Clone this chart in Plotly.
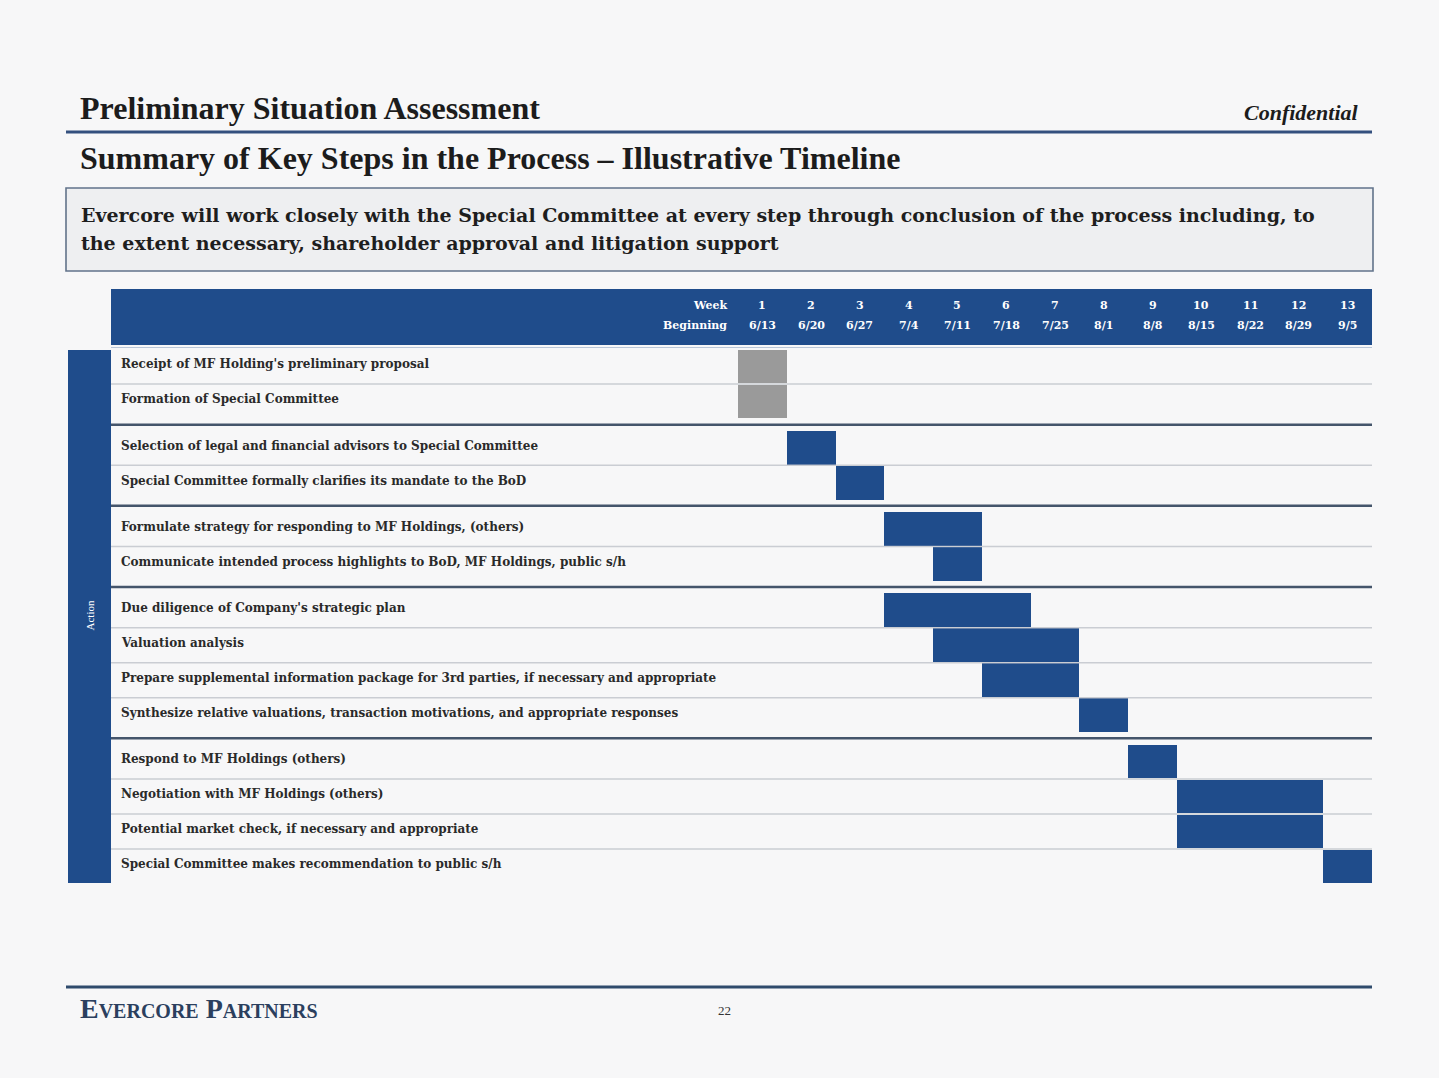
import plotly.graph_objects as go

W, H = 1439, 1078

# ---------------- data ----------------
tasks = [
    "Receipt of MF Holding's preliminary proposal",
    "Formation of Special Committee",
    "Selection of legal and financial advisors to Special Committee",
    "Special Committee formally clarifies its mandate to the BoD",
    "Formulate strategy for responding to MF Holdings, (others)",
    "Communicate intended process highlights to BoD, MF Holdings, public s/h",
    "Due diligence of Company's strategic plan",
    "Valuation analysis",
    "Prepare supplemental information package for 3rd parties, if necessary and appropriate",
    "Synthesize relative valuations, transaction motivations, and appropriate responses",
    "Respond to MF Holdings (others)",
    "Negotiation with MF Holdings (others)",
    "Potential market check, if necessary and appropriate",
    "Special Committee makes recommendation to public s/h",
]
start_week = [1, 1, 2, 3, 4, 5, 4, 5, 6, 8, 9, 10, 10, 13]
end_week = [1, 1, 2, 3, 5, 5, 6, 7, 7, 8, 9, 12, 12, 13]
group_id = [0, 0, 1, 1, 2, 2, 3, 3, 3, 3, 4, 4, 4, 4]
status = ["prelim", "prelim"] + ["plan"] * 12
weeks = list(range(1, 14))
week_begin = ["6/13", "6/20", "6/27", "7/4", "7/11", "7/18", "7/25",
              "8/1", "8/8", "8/15", "8/22", "8/29", "9/5"]

# ---------------- styling ----------------
BLUE = "#1f4c8b"
GRAY = "#9a9a9a"
BG = "#f7f7f8"
SERIF = "Liberation Serif, Times New Roman, serif"
DSERIF = "DejaVu Serif, serif"
GAP = 0.32


def px(x):
    return x / W


def py(y):
    return 1 - y / H


pos = [i + GAP * g for i, g in enumerate(group_id)]
base = [s - 1 for s in start_week]
dur = [e - s + 1 for s, e in zip(start_week, end_week)]
colors = [GRAY if s == "prelim" else BLUE for s in status]

fig = go.Figure()
fig.add_trace(go.Bar(
    orientation="h", y=pos, x=dur, base=base, width=0.96,
    marker=dict(color=colors, line=dict(width=0)),
    hoverinfo="skip", showlegend=False,
))

shapes = []
annotations = []

# header band
shapes.append(dict(type="rect", xref="paper", yref="paper",
                   x0=px(111), x1=px(1372), y0=py(345), y1=py(289),
                   fillcolor=BLUE, line=dict(width=0), layer="below"))
shapes.append(dict(type="line", xref="paper", yref="paper",
                   x0=px(111), x1=px(1372), y0=py(347.5), y1=py(347.5),
                   line=dict(color="#b9c6d8", width=1.2)))
# left "Action" band
shapes.append(dict(type="rect", xref="paper", yref="paper",
                   x0=px(68), x1=px(111), y0=py(883), y1=py(350),
                   fillcolor=BLUE, line=dict(width=0), layer="below"))

# row separators
last = len(pos) - 1
for i in range(last):
    if group_id[i] == group_id[i + 1]:
        yv = pos[i] + 0.5
        shapes.append(dict(type="line", xref="paper", yref="y",
                           x0=px(111), x1=px(1372), y0=yv, y1=yv,
                           line=dict(color="rgba(196,200,206,0.9)", width=1.5),
                           layer="above"))
    else:
        yv = pos[i] + 0.5 + GAP / 2
        shapes.append(dict(type="line", xref="paper", yref="y",
                           x0=px(111), x1=px(1372), y0=yv, y1=yv,
                           line=dict(color="#45556b", width=2.5),
                           layer="above"))
yb = pos[last] + 0.5 + GAP / 2
shapes.append(dict(type="line", xref="paper", yref="y",
                   x0=px(67), x1=px(1372), y0=yb, y1=yb,
                   line=dict(color="#9ea7b1", width=3)))

# title rules / box / footer rule
shapes.append(dict(type="line", xref="paper", yref="paper",
                   x0=px(66), x1=px(1372), y0=py(132), y1=py(132),
                   line=dict(color="#34507e", width=3)))
shapes.append(dict(type="rect", xref="paper", yref="paper",
                   x0=px(66), x1=px(1373), y0=py(271), y1=py(188),
                   fillcolor="#eeeff1", line=dict(color="#62738a", width=1.6),
                   layer="below"))
shapes.append(dict(type="line", xref="paper", yref="paper",
                   x0=px(66), x1=px(1372), y0=py(987), y1=py(987),
                   line=dict(color="#2f4b6c", width=3)))

# row labels
for t, p in zip(tasks, pos):
    annotations.append(dict(text=t, xref="paper", yref="y", x=px(119), y=p - 0.06,
                            xanchor="left", yanchor="middle", showarrow=False,
                            font=dict(family=DSERIF, size=12, color="#2a2a2a",
                                      weight="bold")))

# week header
HDR = dict(family=DSERIF, size=11, color="white", weight="bold")
annotations.append(dict(text="Week", xref="paper", yref="paper", x=px(729), y=py(306),
                        xanchor="right", yanchor="middle", showarrow=False, font=HDR))
annotations.append(dict(text="Beginning", xref="paper", yref="paper", x=px(729), y=py(325),
                        xanchor="right", yanchor="middle", showarrow=False, font=HDR))
for w, d in zip(weeks, week_begin):
    annotations.append(dict(text=str(w), xref="x", yref="paper", x=w - 0.5, y=py(306),
                            xanchor="center", yanchor="middle", showarrow=False, font=HDR))
    annotations.append(dict(text=d, xref="x", yref="paper", x=w - 0.5, y=py(325),
                            xanchor="center", yanchor="middle", showarrow=False, font=HDR))

annotations.append(dict(text="Action", xref="paper", yref="paper", x=px(89.5), y=py(616),
                        xanchor="center", yanchor="middle", showarrow=False, textangle=-90,
                        font=dict(family=SERIF, size=11, color="white")))

# titles
annotations.append(dict(text="Preliminary Situation Assessment", xref="paper", yref="paper",
                        x=px(78), y=py(108), xanchor="left", yanchor="middle", showarrow=False,
                        font=dict(family=SERIF, size=32, color="#1c1c1c", weight="bold")))
annotations.append(dict(text="<i>Confidential</i>", xref="paper", yref="paper",
                        x=px(1361), y=py(112), xanchor="right", yanchor="middle", showarrow=False,
                        font=dict(family=SERIF, size=22, color="#1c1c1c", weight="bold")))
annotations.append(dict(text="Summary of Key Steps in the Process \u2013 Illustrative Timeline",
                        xref="paper", yref="paper", x=px(78), y=py(158),
                        xanchor="left", yanchor="middle", showarrow=False,
                        font=dict(family=SERIF, size=32, color="#1c1c1c", weight="bold")))
BOX = dict(family=DSERIF, size=19, color="#1e1e1e", weight="bold")
annotations.append(dict(text="Evercore will work closely with the Special Committee at every step through conclusion of the process including, to",
                        xref="paper", yref="paper", x=px(79), y=py(215),
                        xanchor="left", yanchor="middle", showarrow=False, font=BOX))
annotations.append(dict(text="the extent necessary, shareholder approval and litigation support",
                        xref="paper", yref="paper", x=px(79), y=py(243),
                        xanchor="left", yanchor="middle", showarrow=False, font=BOX))

# footer
annotations.append(dict(text="Evercore Partners", xref="paper", yref="paper",
                        x=px(78), y=py(1008), xanchor="left", yanchor="middle", showarrow=False,
                        font=dict(family=SERIF, size=28, color="#2b3f5e", weight="bold",
                                  variant="small-caps")))
annotations.append(dict(text="22", xref="paper", yref="paper",
                        x=px(724), y=py(1010), xanchor="center", yanchor="middle", showarrow=False,
                        font=dict(family=SERIF, size=13, color="#333333")))

fig.update_layout(
    width=W, height=H, autosize=False,
    margin=dict(l=0, r=0, t=0, b=0, pad=0),
    paper_bgcolor=BG, plot_bgcolor="rgba(0,0,0,0)",
    xaxis=dict(domain=[px(738), px(1372)], range=[0, 13], visible=False, fixedrange=True),
    yaxis=dict(domain=[py(884), py(349)], range=[pos[-1] + 0.5, -0.5],
               visible=False, fixedrange=True),
    shapes=shapes, annotations=annotations,
    bargap=0, showlegend=False,
)

fig.write_html("out.html", config={"displayModeBar": False},
               post_script="document.body.style.margin='0';document.body.style.overflow='hidden';document.body.style.background='" + BG + "';")
